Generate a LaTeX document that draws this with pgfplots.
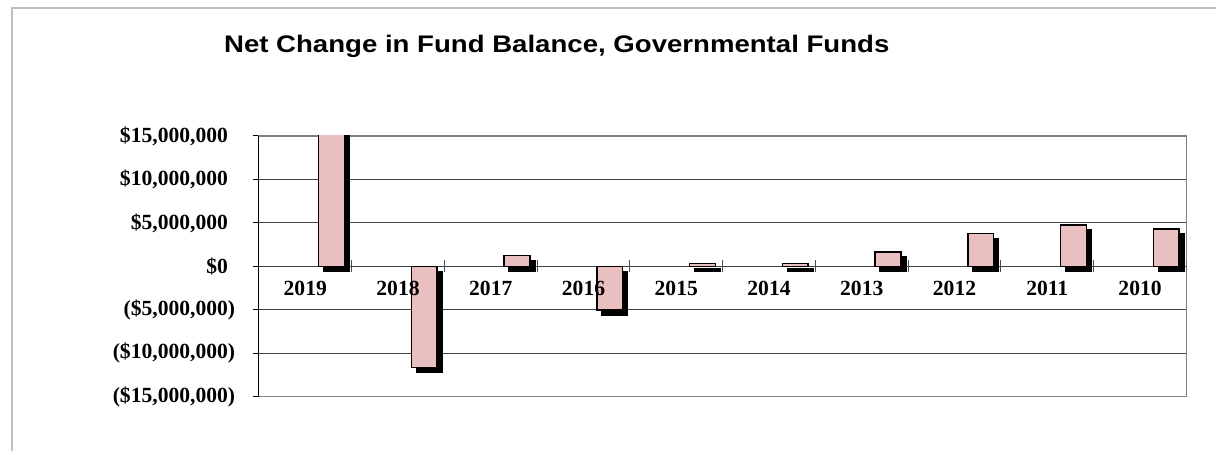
\documentclass[border=0pt]{standalone}
\usepackage{fontspec}
\setmainfont{Liberation Serif}
\newfontfamily\titlefont{Liberation Sans}[FakeStretch=1.15]
\usepackage{pgfplots}
\usepackage{pgfplotstable}
\pgfplotsset{compat=1.18}

\definecolor{barpink}{RGB}{233,191,192}
\definecolor{framegray}{RGB}{190,190,190}
\definecolor{bordergray}{RGB}{128,128,128}

% money labels: digits right-aligned, closing paren hangs in a fixed slot
\newcommand{\posmoney}[1]{\makebox[0pt][r]{\$#1}\makebox[0.35em][l]{}}
\newcommand{\negmoney}[1]{\makebox[0pt][r]{(\$#1}\makebox[0.35em][l]{)}}

% shared frame of both axes
\pgfplotsset{
  fundframe/.style={
    at={(129.5pt,27pt)},
    anchor=south west,
    scale only axis,
    width=464pt,
    height=130.5pt,
    xmin=-0.5, xmax=9.5,
    ymin=-15000000, ymax=15000000,
    ticklabel style={font=\bfseries\fontsize{10.8}{12}\selectfont},
  },
}

% net change by fiscal year, 2019 runs past the top of the axis
\pgfplotstableread{
idx year value
0 2019 20000000
1 2018 -11600000
2 2017 1250000
3 2016 -5000000
4 2015 350000
5 2014 350000
6 2013 1640000
7 2012 3790000
8 2011 4750000
9 2010 4290000
}\fundtable

\begin{document}
\begin{tikzpicture}[x=0.5pt,y=0.5pt]
\draw[framegray, line width=0.6pt] (12,0) -- (12,443) -- (1217,443);
\node[anchor=base, inner sep=0pt, font=\titlefont\bfseries\fontsize{12}{14}\selectfont]
  at (557,398) {Net Change in Fund Balance, Governmental Funds};
\begin{axis}[
  fundframe,
  name=ax,
  xtick=\empty,
  ytick={-15000000,-10000000,-5000000,0,5000000,10000000,15000000},
  yticklabels={
    {\negmoney{15,000,000}},{\negmoney{10,000,000}},{\negmoney{5,000,000}},
    {\posmoney{0}},{\posmoney{5,000,000}},{\posmoney{10,000,000}},
    {\posmoney{15,000,000}}},
  scaled y ticks=false,
  ytick pos=left,
  tick align=outside,
  major tick length=3pt,
  ytick style={black, line width=0.5pt},
  ymajorgrids,
  major grid style={black!75, line width=0.5pt},
  axis line style={bordergray, line width=0.6pt},
  yticklabel style={anchor=east, inner sep=0pt, xshift=-8.5pt},
  ybar,
  bar width=0.277,
  bar shift=0.283,
]
\addplot[fill=barpink, draw=black, line width=0.7pt,
  preaction={fill=black, transform canvas={shift={(2.5pt,-2.5pt)}}}]
  table[x=idx, y=value] {\fundtable};
\pgfplotsinvokeforeach{0.5,1.5,2.5,3.5,4.5,5.5,6.5,7.5,8.5,9.5}{
  \draw[black!70, line width=0.5pt] (axis cs:#1,0) ++(0pt,-3pt) -- ++(0pt,6pt);
}
\end{axis}
\draw[black, line width=0.6pt] (ax.south west) -- (ax.north west);
% year labels drawn last so they sit over the bars
\begin{axis}[
  fundframe,
  axis line style={draw=none},
  ytick=\empty,
  xtick={0,1,2,3,4,5,6,7,8,9},
  xticklabels from table={\fundtable}{year},
  xtick style={draw=none},
  xticklabel style={anchor=north, inner sep=0pt, yshift=58pt},
]
\end{axis}
\path (0,0) rectangle (1217,451);
\end{tikzpicture}
\end{document}
